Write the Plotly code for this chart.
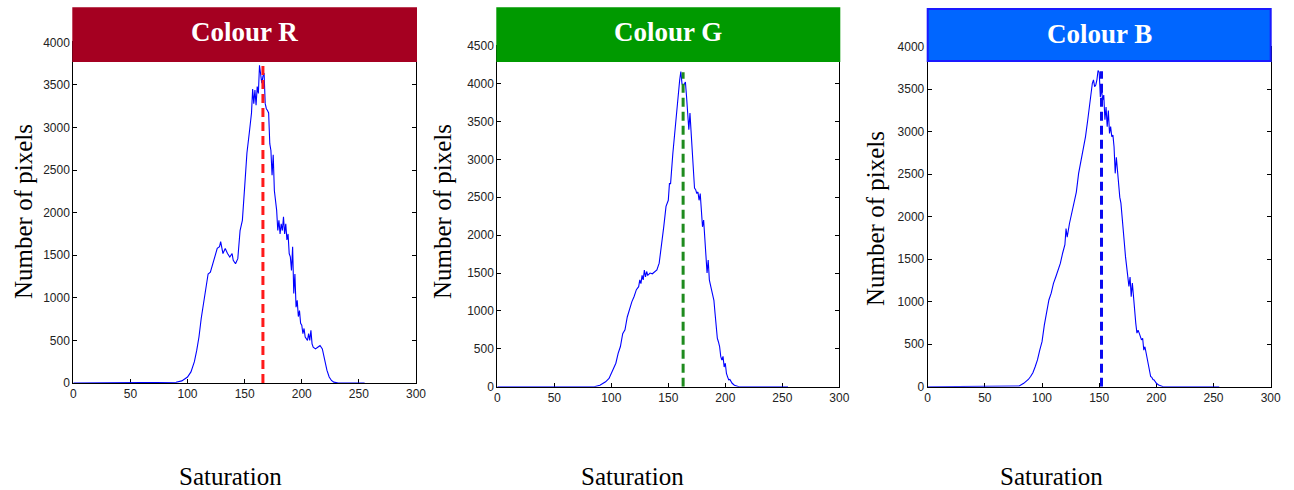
import plotly.graph_objects as go

# ---------------- data ----------------
sat_r = [0, 80, 85, 90, 95, 98, 100, 103, 106, 108,
         110, 112, 114, 116, 118, 120, 122, 124, 126, 128,
         129, 131, 133, 135, 137, 139, 140, 142, 144, 146,
         148, 150, 152, 154, 156, 157, 158, 159, 160, 161,
         162, 163, 164, 165, 166, 167, 168, 169, 170, 171,
         172, 173, 174, 175, 176, 177, 178, 179, 180, 181,
         182, 183, 184, 185, 186, 187, 188, 189, 190, 191,
         192, 193, 194, 195, 196, 197, 198, 199, 200, 201,
         202, 203, 204, 205, 206, 207, 208, 209,
         210, 212, 214, 216, 218, 220, 222, 224, 226, 228,
         232, 255]
count_r = [0, 0, 3, 8, 25, 50, 70, 130, 250, 380,
           540, 760, 930, 1130, 1280, 1300, 1400, 1480, 1580, 1600,
           1660, 1520, 1580, 1520, 1480, 1520, 1440, 1400, 1460, 1790,
           1910, 2300, 2700, 2930, 3170, 3450, 3280, 3440, 3260, 3480,
           3400, 3730, 3640, 3520, 3600, 3640, 3280, 3220, 3200, 3170,
           2810, 2730, 2440, 2680, 2260, 2150, 2030, 1790, 1910, 1750,
           1870, 1790, 1950, 1750, 1870, 1680, 1750, 1520, 1480, 1320,
           1600, 1050, 1280, 890, 970, 780, 850, 700, 680, 580,
           640, 540, 520, 500, 580, 500, 620, 460,
           420, 400, 420, 440, 400, 270, 150, 70, 30, 10,
           0, 0]

sat_g = [0, 85, 90, 95, 98, 100, 102, 104, 106, 108,
         110, 112, 114, 116, 118, 120, 122, 124, 125, 126,
         127, 128, 129, 130, 131, 132, 134, 136, 138, 140,
         142, 144, 146, 148, 150, 151, 152, 154, 156, 158,
         159, 160, 161, 162, 163, 164, 165, 166, 167, 168,
         169, 170, 171, 172, 173, 174, 175, 176, 177, 178,
         179, 180, 181, 182, 183, 184, 185, 186, 187, 188,
         189, 190, 191, 192, 193, 194, 195, 196, 197, 198,
         199, 200, 201, 202, 203, 204, 205, 206,
         208, 210, 212, 255]
count_g = [0, 0, 20, 65, 110, 175, 240, 310, 440, 530,
           700, 750, 920, 1030, 1120, 1190, 1280, 1320, 1410, 1360,
           1470, 1410, 1540, 1450, 1520, 1470, 1500, 1490, 1520, 1540,
           1630, 1850, 2110, 2380, 2460, 2680, 2680, 3080, 3430, 3780,
           3850, 4050, 4160, 4000, 3960, 4000, 4020, 3830, 3610, 3390,
           3610, 3390, 3120, 2900, 2620, 2600, 2550, 2570, 2460, 2550,
           2380, 2110, 2200, 1940, 1850, 1500, 1670, 1410, 1340, 1280,
           1230, 1140, 970, 790, 640, 590, 530, 400, 350, 400,
           260, 310, 175, 130, 90, 95, 65, 45,
           20, 8, 0, 0]

sat_b = [0, 70, 75, 80, 84, 86, 88, 90, 92, 94,
         96, 98, 100, 102, 104, 106, 108, 110, 112, 114,
         116, 118, 120, 121, 122, 124, 126, 128, 130, 132,
         134, 136, 138, 140, 142, 144, 145, 146, 147, 148,
         149, 150, 151, 152, 153, 154, 155, 156, 157, 158,
         159, 160, 161, 162, 163, 164, 165, 166, 167, 168,
         169, 170, 171, 172, 173, 174, 175, 176, 177, 178,
         179, 180, 181, 182, 183, 184, 185, 186, 187, 188,
         189, 190, 191, 192, 193, 194, 195, 196, 197, 198,
         199, 200, 202, 204, 206, 255]
count_b = [0, 0, 2, 8, 40, 60, 85, 120, 165, 235,
           315, 430, 530, 725, 880, 1020, 1100, 1215, 1290, 1370,
           1450, 1570, 1670, 1860, 1760, 1920, 2040, 2190, 2290, 2510,
           2660, 2800, 2940, 3140, 3370, 3570, 3610, 3530, 3550, 3610,
           3720, 3700, 3410, 3510, 3370, 3430, 3140, 3290, 3060, 3250,
           2980, 3060, 2940, 2960, 2820, 2510, 2700, 2510, 2350, 2230,
           2160, 1960, 1840, 1690, 1530, 1410, 1290, 1180, 1290, 1060,
           1220, 1020, 860, 745, 630, 665, 630, 590, 550, 570,
           430, 470, 390, 315, 235, 155, 120, 110, 85, 80,
           60, 40, 20, 8, 0, 0]

panel_titles = ["Colour R", "Colour G", "Colour B"]
mean_sat = [166, 163, 152]
mean_peak = [3730, 4150, 3710]
y_max = [4000, 4500, 4000]
x_ticks = [0, 50, 100, 150, 200, 250, 300]
y_label = "Number of pixels"
x_label = "Saturation"

# ---------------- styling / layout ----------------
W, H = 1294, 490
header_fill = ["#A50021", "#009A00", "#0066FF"]
header_line = ["#A50021", "#009A00", "#1a1aff"]
mean_color = ["#FF1A1A", "#1E8B1E", "#0A0AF0"]
# plot areas in pixels: (left, right, top, bottom)
areas = [(73.3, 416.0, 42.3, 383.0),
         (497.3, 839.3, 45.7, 386.7),
         (927.7, 1270.7, 46.7, 386.7)]
headers = [(73.3, 416.0, 8.3, 61.0),
           (497.3, 839.3, 8.3, 61.0),
           (927.7, 1270.7, 9.0, 61.0)]
title_y = [32, 32, 34.5]
ylab_x = [23, 442, 875]
ylab_y = [212, 211, 219]
xlab_x = [230, 632, 1051]

def px(x):
    return x / W

def py(y):
    return 1 - y / H

sats = [sat_r, sat_g, sat_b]
counts = [count_r, count_g, count_b]

fig = go.Figure()
shapes = []
annotations = []
tick_font = dict(family="Liberation Sans, Arial, sans-serif", size=12, color="#222222")
serif = "Liberation Serif, Times New Roman, serif"

for i in range(3):
    sfx = "" if i == 0 else str(i + 1)
    xa, ya = "x" + sfx, "y" + sfx
    fig.add_trace(go.Scatter(x=sats[i], y=counts[i], mode="lines",
                             line=dict(color="#0000FF", width=1.1),
                             xaxis=xa, yaxis=ya, showlegend=False, hoverinfo="skip",
                             cliponaxis=False))
    fig.add_trace(go.Scatter(x=[mean_sat[i], mean_sat[i]], y=[0, mean_peak[i]], mode="lines",
                             line=dict(color=mean_color[i], width=3, dash="9px,5px"),
                             xaxis=xa, yaxis=ya, showlegend=False, hoverinfo="skip"))
    l, r, t, b = areas[i]
    common = dict(showline=True, linecolor="black", linewidth=1, mirror="ticks",
                  ticks="inside", ticklen=4, tickcolor="black", tickwidth=1,
                  showgrid=False, zeroline=False, tickfont=tick_font, automargin=False)
    fig.update_layout(**{
        "xaxis" + sfx: dict(domain=[px(l), px(r)], range=[0, 300], tickvals=x_ticks,
                            anchor=ya, layer="below traces", **common),
        "yaxis" + sfx: dict(domain=[py(b), py(t)], range=[0, y_max[i]], dtick=500,
                            anchor=xa, **common),
    })
    hl, hr, ht, hb = headers[i]
    shapes.append(dict(type="rect", xref="paper", yref="paper", layer="above",
                       x0=px(hl), x1=px(hr), y0=py(hb), y1=py(ht),
                       fillcolor=header_fill[i], line=dict(color=header_line[i], width=2)))
    annotations.append(dict(x=px((hl + hr) / 2), y=py(title_y[i]), xref="paper", yref="paper",
                            text="<b>" + panel_titles[i] + "</b>", showarrow=False,
                            font=dict(family=serif, size=27, color="white"),
                            xanchor="center", yanchor="middle"))
    annotations.append(dict(x=px(ylab_x[i]), y=py(ylab_y[i]), xref="paper", yref="paper",
                            text=y_label, showarrow=False, textangle=-90,
                            font=dict(family=serif, size=25, color="black"),
                            xanchor="center", yanchor="middle"))
    annotations.append(dict(x=px(xlab_x[i]), y=py(476), xref="paper", yref="paper",
                            text=x_label, showarrow=False,
                            font=dict(family=serif, size=25, color="black"),
                            xanchor="center", yanchor="middle"))

fig.update_layout(template="none", width=W, height=H,
                  margin=dict(l=0, r=0, t=0, b=0, pad=0, autoexpand=False),
                  paper_bgcolor="white", plot_bgcolor="white",
                  shapes=shapes, annotations=annotations, showlegend=False)

fig.write_html("out.html")
